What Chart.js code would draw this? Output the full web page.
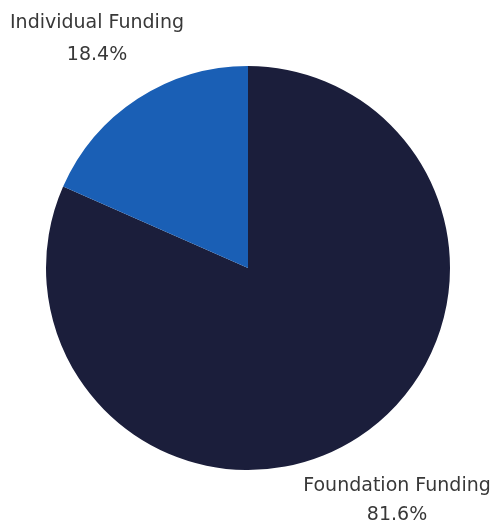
<!DOCTYPE html>
<html>
<head>
<meta charset="utf-8">
<script src="https://cdn.jsdelivr.net/npm/chart.js@4.4.1/dist/chart.umd.min.js"></script>
<style>
  html, body { margin: 0; padding: 0; background: #fff; }
  #wrap { width: 496px; height: 523px; position: relative; }
</style>
</head>
<body>
<div id="wrap"><canvas id="myPie"></canvas></div>
<script>
const aLabels = ['Foundation Funding', 'Individual Funding'];
const aValues = [81.6, 18.4];
const aColors = ['#1b1e3b', '#1a5fb5'];

// labels drawn outside the pie, near their slices
const outsideLabels = {
    id: 'outsideLabels',
    afterDraw(chart) {
        const ctx = chart.ctx;
        ctx.save();
        ctx.fillStyle = '#383838';
        ctx.font = '19px "DejaVu Sans", sans-serif';
        ctx.textAlign = 'center';
        ctx.textBaseline = 'middle';
        const spots = [
            { x: 397, y1: 486, y2: 515 },
            { x: 97, y1: 23, y2: 55 }
        ];
        aLabels.forEach((label, i) => {
            const s = spots[i];
            ctx.fillText(label, s.x, s.y1);
            ctx.fillText(aValues[i].toFixed(1) + '%', s.x, s.y2);
        });
        ctx.restore();
    }
};

const ctx = document.getElementById('myPie').getContext('2d');
const myPie = new Chart(ctx, {
    type: 'pie',
    data: {
        labels: aLabels,
        datasets: [{
            data: aValues,
            backgroundColor: aColors,
            borderWidth: 0
        }]
    },
    options: {
        responsive: true,
        maintainAspectRatio: false,
        animation: false,
        layout: {
            padding: { left: 46, right: 46, top: 66, bottom: 53 }
        },
        plugins: {
            legend: { display: false },
            tooltip: { enabled: false }
        }
    },
    plugins: [outsideLabels]
});
</script>
</body>
</html>
